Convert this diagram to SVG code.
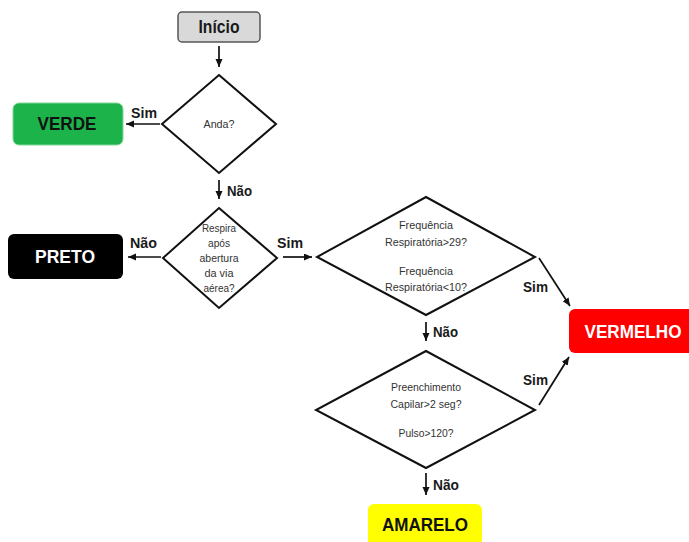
<svg xmlns="http://www.w3.org/2000/svg" width="689" height="542" viewBox="0 0 689 542">
<defs>
<marker id="ah" markerUnits="userSpaceOnUse" markerWidth="9" markerHeight="8" refX="8" refY="3.5" orient="auto">
<path d="M0,0 L8,3.5 L0,7 z" fill="#111"/>
</marker>
<style>
.lbl{font-family:"Liberation Sans Narrow","Liberation Sans",Arial,sans-serif;font-weight:bold;font-size:15px;fill:#1a1a1a}
.box{font-family:"Liberation Sans Narrow","Liberation Sans",Arial,sans-serif;font-weight:bold;font-size:18px;text-anchor:middle}
.q{font-family:"Liberation Sans Narrow","Liberation Sans",Arial,sans-serif;font-size:10px;fill:#333;text-anchor:middle}
.dia{fill:#fff;stroke:#111;stroke-width:2;stroke-linejoin:miter}
.con{stroke:#111;stroke-width:1.7;fill:none;marker-end:url(#ah)}
</style>
</defs>
<rect width="689" height="542" fill="#fff"/>

<g id="inicio">
<rect x="178" y="12" width="82" height="30" rx="4" fill="#d9d9d9" stroke="#555" stroke-width="1.5"/>
<text class="box" x="219" y="33" fill="#1a1a1a" textLength="41" lengthAdjust="spacingAndGlyphs">Início</text>
</g>

<g id="anda">
<polygon class="dia" points="219,75 276,124 219,173 162,124"/>
<text class="q" x="219" y="128" textLength="31" lengthAdjust="spacingAndGlyphs">Anda?</text>
</g>

<g id="verde">
<rect x="13" y="103" width="110" height="42" rx="6" fill="#1db34b" stroke="#7fd79a" stroke-width="1"/>
<text class="box" x="67" y="130" fill="#111" textLength="59" lengthAdjust="spacingAndGlyphs">VERDE</text>
</g>

<g id="respira">
<polygon class="dia" points="219,208 277,258 219,308 163,258"/>
<text class="q" x="219" y="232" textLength="34" lengthAdjust="spacingAndGlyphs">Respira</text>
<text class="q" x="219" y="247" textLength="22" lengthAdjust="spacingAndGlyphs">após</text>
<text class="q" x="219" y="262" textLength="39" lengthAdjust="spacingAndGlyphs">abertura</text>
<text class="q" x="219" y="277" textLength="29" lengthAdjust="spacingAndGlyphs">da via</text>
<text class="q" x="219" y="292" textLength="31" lengthAdjust="spacingAndGlyphs">aérea?</text>
</g>

<g id="preto">
<rect x="8" y="234" width="115" height="45" rx="6" fill="#000"/>
<text class="box" x="65" y="263" fill="#fff" textLength="60" lengthAdjust="spacingAndGlyphs">PRETO</text>
</g>

<g id="freq">
<polygon class="dia" points="426,197 535,257 426,315 317,257"/>
<text class="q" x="426" y="229" textLength="54" lengthAdjust="spacingAndGlyphs">Frequência</text>
<text class="q" x="426" y="246" textLength="82" lengthAdjust="spacingAndGlyphs">Respiratória&gt;29?</text>
<text class="q" x="426" y="275" textLength="54" lengthAdjust="spacingAndGlyphs">Frequência</text>
<text class="q" x="426" y="291" textLength="82" lengthAdjust="spacingAndGlyphs">Respiratória&lt;10?</text>
</g>

<g id="vermelho">
<rect x="569" y="309" width="126" height="44" rx="6" fill="#ff0000"/>
<text class="box" x="633" y="338" fill="#fff" textLength="97" lengthAdjust="spacingAndGlyphs">VERMELHO</text>
</g>

<g id="capilar">
<polygon class="dia" points="426,351 535,410 426,468 316,410"/>
<text class="q" x="426" y="391" textLength="70" lengthAdjust="spacingAndGlyphs">Preenchimento</text>
<text class="q" x="426" y="408" textLength="71" lengthAdjust="spacingAndGlyphs">Capilar&gt;2 seg?</text>
<text class="q" x="426" y="437" textLength="55" lengthAdjust="spacingAndGlyphs">Pulso&gt;120?</text>
</g>

<g id="amarelo">
<rect x="368" y="504" width="114" height="50" rx="6" fill="#ffff00"/>
<text class="box" x="425" y="531" fill="#111" textLength="86" lengthAdjust="spacingAndGlyphs">AMARELO</text>
</g>

<g id="connectors">
<line class="con" x1="219" y1="46" x2="219" y2="67"/>
<line class="con" x1="160" y1="124" x2="126" y2="124"/>
<text class="lbl" x="131" y="118" textLength="26" lengthAdjust="spacingAndGlyphs">Sim</text>
<line class="con" x1="219" y1="180" x2="219" y2="199"/>
<text class="lbl" x="227" y="196" textLength="25" lengthAdjust="spacingAndGlyphs">Não</text>
<line class="con" x1="161" y1="257" x2="128" y2="257"/>
<text class="lbl" x="130" y="248" textLength="27" lengthAdjust="spacingAndGlyphs">Não</text>
<line class="con" x1="283" y1="257" x2="312" y2="257"/>
<text class="lbl" x="277" y="248" textLength="26" lengthAdjust="spacingAndGlyphs">Sim</text>
<line class="con" x1="539" y1="258" x2="570" y2="306"/>
<text class="lbl" x="523" y="292" textLength="25" lengthAdjust="spacingAndGlyphs">Sim</text>
<line class="con" x1="426" y1="322" x2="426" y2="341"/>
<text class="lbl" x="433" y="337" textLength="25" lengthAdjust="spacingAndGlyphs">Não</text>
<line class="con" x1="539" y1="405" x2="569" y2="357"/>
<text class="lbl" x="523" y="385" textLength="25" lengthAdjust="spacingAndGlyphs">Sim</text>
<line class="con" x1="426" y1="473" x2="426" y2="495"/>
<text class="lbl" x="433" y="490" textLength="26" lengthAdjust="spacingAndGlyphs">Não</text>
</g>
</svg>
